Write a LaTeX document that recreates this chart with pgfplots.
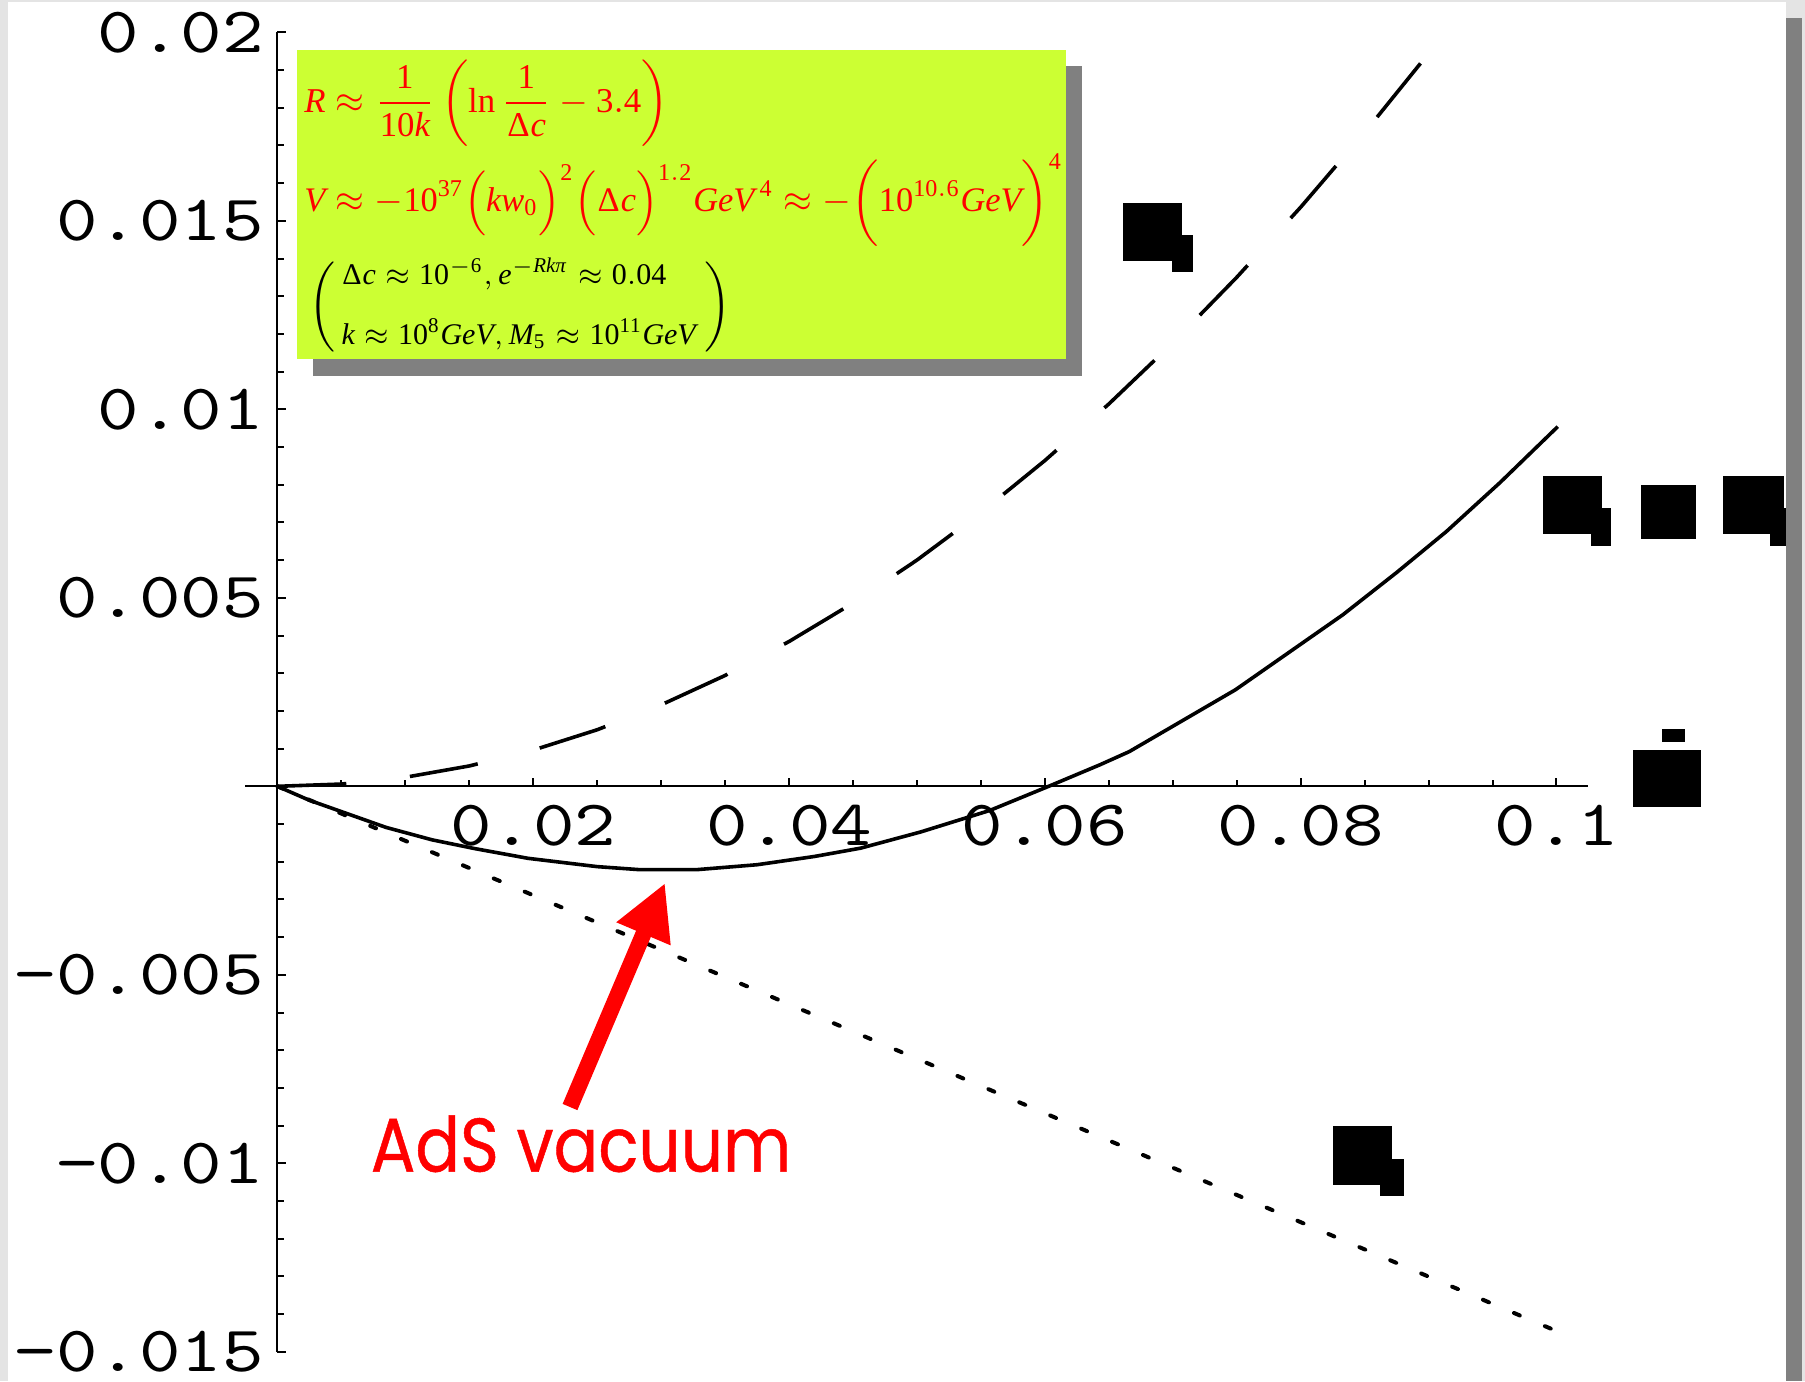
\documentclass[border=0pt]{standalone}
\usepackage{amsmath}
\usepackage{mathspec}
\setmathsfont(Digits,Latin,Greek){Liberation Serif}
\setmathrm{Liberation Serif}
\usepackage{pgfplots}
\pgfplotsset{compat=1.18}
\usetikzlibrary{arrows.meta}
\newfontfamily\tickfont{lmmono10-regular.otf}[FakeStretch=1.22]
\newfontfamily\notefont{Poppins}[FakeStretch=0.87, FakeBold=0.6]
\definecolor{slidebg}{RGB}{228,228,228}
\definecolor{shadowgray}{RGB}{128,128,128}
\definecolor{lime}{RGB}{204,255,51}

\begin{document}
\begin{tikzpicture}
% slide background, white card and its right shadow (1px = 0.25pt)
\fill[slidebg] (0pt,0pt) rectangle (451.25pt,-345.25pt);
\fill[white] (2pt,-0.5pt) rectangle (446.5pt,-345.25pt);
\fill[shadowgray] (446.5pt,-4.5pt) rectangle (450.5pt,-345.25pt);

\begin{axis}[
    at={(61.35pt,-337.95pt)}, anchor=south west,
    scale only axis,
    width=335.75pt, height=329.875pt,
    xmin=-0.0025, xmax=0.1025,
    ymin=-0.015, ymax=0.02,
    axis lines=middle,
    axis line style={-, line width=0.5pt},
    clip=false,
    xtick={0.02,0.04,0.06,0.08,0.1},
    xticklabels={0.02,0.04,0.06,0.08,0.1},
    minor xtick={0.005,0.01,0.015,0.025,0.03,0.035,0.045,0.05,0.055,0.065,0.07,0.075,0.085,0.09,0.095},
    ytick={-0.015,-0.01,-0.005,0.005,0.01,0.015,0.02},
    yticklabels={−0.015,−0.01,−0.005,0.005,0.01,0.015,0.02},
    minor ytick={-0.014,-0.013,-0.012,-0.011,-0.009,-0.008,-0.007,-0.006,-0.004,-0.003,-0.002,-0.001,0.001,0.002,0.003,0.004,0.006,0.007,0.008,0.009,0.011,0.012,0.013,0.014,0.016,0.017,0.018,0.019},
    tick align=inside,
    major tick length=2.2pt, minor tick length=1.6pt,
    tick style={black, line width=0.5pt},
    xticklabel style={font=\tickfont\fontsize{16.2}{16.2}\selectfont, anchor=north, inner sep=0pt, text height=9.9pt, text depth=0pt, yshift=-4.8pt},
    yticklabel style={font=\tickfont\fontsize{16.2}{16.2}\selectfont, anchor=east, inner sep=0pt, text height=9.9pt, text depth=0pt, xshift=-3.2pt},
]

% solid curve
\addplot[black, line width=0.9pt] coordinates {
    (0,0) (0.0025,-0.00037) (0.005,-0.00067) (0.0085,-0.00109)
    (0.0121,-0.00142) (0.0154,-0.00165) (0.0196,-0.00191) (0.025,-0.00213)
    (0.0283,-0.00221) (0.0328,-0.00221) (0.0375,-0.00208) (0.042,-0.00186)
    (0.0456,-0.00164) (0.0503,-0.00121) (0.0557,-0.00064) (0.0603,0)
    (0.0643,0.00057) (0.0666,0.00092) (0.0749,0.00256) (0.0833,0.00455)
    (0.0875,0.00567) (0.0914,0.00676) (0.0956,0.00806) (0.1001,0.00954)
};

% long dashes
\addplot[black, line width=0.9pt, dash pattern=on 17.25pt off 16pt] coordinates {
    (0,0) (0.005,0.00006) (0.01,0.00024) (0.015,0.00054) (0.02,0.00096)
    (0.025,0.0015) (0.03,0.00216) (0.035,0.00294) (0.04,0.00384)
    (0.045,0.00486) (0.05,0.006) (0.055,0.00726) (0.06,0.00864)
    (0.065,0.01014) (0.07,0.01176) (0.075,0.0135) (0.08,0.01536)
    (0.085,0.01734) (0.09,0.01944) (0.0913,0.02)
};

% short dashes
\addplot[black, line width=1pt, line cap=round, dash pattern=on 1.6pt off 6.8pt] coordinates {
    (0,0) (0.02,-0.00289) (0.04,-0.00578) (0.06,-0.00867) (0.08,-0.01156) (0.0998,-0.01442)
};

% black blocks (garbled labels in the original)
\fill[black] (axis cs:0.06608,0.015477) rectangle (axis cs:0.07071,0.013939);
\fill[black] (axis cs:0.06994,0.014621) rectangle (axis cs:0.07160,0.013642);
\fill[black] (axis cs:0.09894,0.008233) rectangle (axis cs:0.10358,0.006706);
\fill[black] (axis cs:0.10271,0.007377) rectangle (axis cs:0.10428,0.006377);
\fill[black] (axis cs:0.10661,0.007981) rectangle (axis cs:0.11093,0.006562);
\fill[black] (axis cs:0.11304,0.008233) rectangle (axis cs:0.11776,0.006706);
\fill[black] (axis cs:0.11670,0.007377) rectangle (axis cs:0.11795,0.006377);
\fill[black] (axis cs:0.10598,0.000968) rectangle (axis cs:0.11132,-0.000538);
\fill[black] (axis cs:0.10826,0.00152) rectangle (axis cs:0.11005,0.001175);
\fill[black] (axis cs:0.08253,-0.009011) rectangle (axis cs:0.08715,-0.010568);
\fill[black] (axis cs:0.08621,-0.009886) rectangle (axis cs:0.08809,-0.010859);
\end{axis}

% formula box with shadow
\fill[shadowgray] (78.25pt,-16.5pt) rectangle (270.5pt,-93.925pt);
\fill[lime] (74.25pt,-12.375pt) rectangle (266.5pt,-89.75pt);
\node[anchor=west, text=red, inner sep=0pt, font=\fontsize{8.7}{11}\selectfont]
    at (75.9pt,-25.75pt) {$R \approx \dfrac{1}{10k}\left(\ln\dfrac{1}{\Delta c}-3.4\right)$};
\node[anchor=west, text=red, inner sep=0pt, font=\fontsize{8.6}{11}\selectfont]
    at (75.9pt,-50pt) {$V \approx -10^{37}\Bigl(kw_{0}\Bigr)^{2}\Bigl(\Delta c\Bigr)^{1.2}GeV^{\,4} \approx -\biggl(10^{10.6}GeV\biggr)^{4}$};
\node[anchor=west, inner sep=0pt, font=\fontsize{7.5}{9.5}\selectfont]
    at (77pt,-76.65pt) {$\left(\begin{array}{@{\,}l@{\;}}\Delta c \approx 10^{-6}, e^{-Rk\pi} \approx 0.04\\[5.5pt] k \approx 10^{8}GeV, M_{5} \approx 10^{11}GeV\end{array}\right)$};

% arrow and label
\draw[red, line width=4pt, -{Triangle[width=13.7pt,length=13.8pt]}] (142.5pt,-276.75pt) -- (166.25pt,-220.75pt);
\node[anchor=base west, text=red, inner sep=0pt, font=\notefont\fontsize{19}{19}\selectfont]
    at (92.5pt,-292.9pt) {AdS vacuum};

\pgfresetboundingbox
\path[use as bounding box] (0pt,0pt) rectangle (451.25pt,-345.25pt);
\end{tikzpicture}
\end{document}
